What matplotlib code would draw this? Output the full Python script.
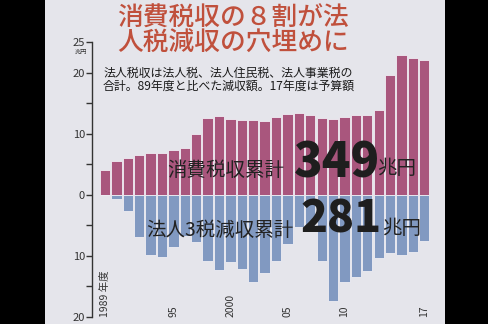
import matplotlib.pyplot as plt
from matplotlib.patches import Rectangle

plt.rcParams['font.family'] = ['Noto Sans CJK JP', 'DejaVu Sans']

# ---------------------------------------------------
# DATA (兆円)
# ---------------------------------------------------

years = list(range(1989, 2018))

consumption_tax = [4.0, 5.6, 6.1, 6.5, 6.9, 6.9, 7.3, 7.6, 10.0, 12.6,
                   12.9, 12.4, 12.3, 12.3, 12.1, 12.7, 13.2, 13.3, 13.0, 12.6,
                   12.4, 12.8, 13.0, 13.1, 13.8, 19.6, 22.9, 22.4, 22.1]

corp_tax_decrease = [0.0, 0.7, 2.6, 6.9, 9.9, 10.1, 8.6, 6.8, 7.8, 10.8,
                     12.3, 11.0, 12.1, 14.2, 12.8, 10.8, 8.0, 5.3, 5.8, 10.8,
                     17.3, 14.2, 13.4, 12.4, 10.3, 9.6, 9.8, 9.3, 7.5]

x_labels = {1989: "1989 年度", 1995: "95", 2000: "2000",
            2005: "05", 2010: "10", 2017: "17"}

y_ticks = [25, 20, 15, 10, 5, 0, -5, -10, -15, -20]
y_tick_labels = ["25", "20", "", "10", "", "0", "", "10", "", "20"]

title_lines = ["消費税収の８割が法", "人税減収の穴埋めに"]
note_lines = ["法人税収は法人税、法人住民税、法人事業税の",
              "合計。89年度と比べた減収額。17年度は予算額"]

W, H = 488, 324


def fx(px):
    return px / W


def fy(py):
    return 1 - py / H


# ---------------------------------------------------
# FIGURE
# ---------------------------------------------------

fig = plt.figure(figsize=(4.88, 3.24), dpi=100)
fig.patch.set_facecolor("black")

fig.patches.append(Rectangle((fx(45), 0), fx(400), 1,
                             transform=fig.transFigure,
                             facecolor="#e5e5eb", zorder=-5))

ax = fig.add_axes([fx(92), fy(317), fx(445 - 92), (317 - 42) / H])
ax.set_facecolor("none")
ax.set_zorder(1)

idx = list(range(len(years)))

ax.bar(idx, consumption_tax, width=0.9, color="#a9567d",
       edgecolor="#f0eef4", linewidth=0.6, zorder=2)
ax.bar(idx, [-v for v in corp_tax_decrease], width=0.9,
       color="#8199c1", edgecolor="#f0eef4", linewidth=0.6, zorder=2)

ax.set_xlim(-1.14, 29.82)
ax.set_ylim(-20, 25)

for s in ["top", "right", "bottom"]:
    ax.spines[s].set_visible(False)
ax.spines["left"].set_color("#333333")
ax.spines["left"].set_linewidth(1.0)

ax.set_xticks([])
ax.set_yticks(y_ticks)
ax.set_yticklabels(y_tick_labels)
ax.tick_params(axis="y", length=4, width=1, color="#333333",
               labelsize=8, labelcolor="#333333", pad=1)

for yr, lab in x_labels.items():
    ax.text(years.index(yr), -20, lab, rotation=90, ha="center",
            va="bottom", fontsize=7.5, color="#333333", zorder=3)

# ---------------------------------------------------
# TEXTS
# ---------------------------------------------------

fig.text(fx(81), fy(52), "兆円", fontsize=4.5, color="#333333",
         ha="center", va="center", zorder=5)

for i, line in enumerate(title_lines):
    fig.text(fx(233), fy(18 + i * 25), line, fontsize=18.5,
             fontweight="medium", color="#c0503c",
             ha="center", va="center", zorder=5)

for i, line in enumerate(note_lines):
    fig.text(fx(103), fy(73 + i * 13), line, fontsize=8.6,
             color="#1a1a1a", ha="left", va="center", zorder=5)

fig.text(fx(167), fy(170), "消費税収累計", fontsize=14,
         color="#222222", ha="left", va="center", zorder=5)
fig.text(fx(294), fy(163), "349", fontsize=34, fontweight="black",
         color="#1e1e1e", ha="left", va="center", zorder=5)
fig.text(fx(377), fy(169), "兆円", fontsize=14,
         color="#222222", ha="left", va="center", zorder=5)

fig.text(fx(146), fy(230), "法人3税減収累計", fontsize=14,
         color="#222222", ha="left", va="center", zorder=5)
fig.text(fx(301), fy(219), "281", fontsize=32, fontweight="black",
         color="#1e1e1e", ha="left", va="center", zorder=5)
fig.text(fx(382), fy(229), "兆円", fontsize=14,
         color="#222222", ha="left", va="center", zorder=5)

fig.savefig("out.png", dpi=100, facecolor=fig.get_facecolor())
plt.close(fig)
